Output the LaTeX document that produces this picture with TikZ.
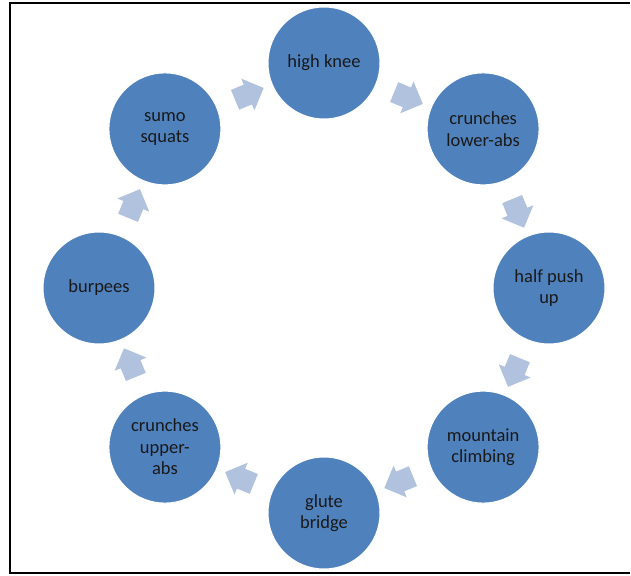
\documentclass[tikz,border=0pt]{standalone}
\usepackage{fontspec}
\setmainfont{Carlito}
\usepackage{tikz}
\usetikzlibrary{shapes.arrows, positioning}

\definecolor{circleblue}{RGB}{79,129,189}
\definecolor{arrowblue}{RGB}{176,194,222}

\begin{document}
\begin{tikzpicture}[x=1pt, y=1pt,
    exercise/.style={circle, fill=circleblue, draw=white, line width=1pt, minimum size=112pt, inner sep=0pt, align=center, text=black!90, font=\fontsize{18.5}{21.5}\selectfont},
    roundarrow/.style={single arrow, fill=arrowblue, draw=none, minimum height=31pt, inner xsep=0pt, inner ysep=10.5pt, single arrow head extend=6.5pt, sloped, allow upside down}]
    \useasboundingbox (-324,-287) rectangle (307,288);
    \draw [line width=2.2pt] (306,285) -- (-314,285) -- (-314,-285) -- (306,-285);

    \node (knee) [exercise] at (90:225) {high knee};
    \node (lowabs) [exercise] at (45:225) {crunches\\lower-abs};
    \node (pushup) [exercise] at (0:225) {half push\\up};
    \node (climb) [exercise] at (-45:225) {mountain\\climbing};
    \node (glute) [exercise] at (-90:225) {glute\\bridge};
    \node (upabs) [exercise] at (-135:225) {crunches\\upper-\\abs};
    \node (burpee) [exercise] at (180:225) {burpees};
    \node (sumo) [exercise] at (135:225) {sumo\\squats};

    \path (knee) -- node [roundarrow] {} (lowabs);
    \path (lowabs) -- node [roundarrow] {} (pushup);
    \path (pushup) -- node [roundarrow] {} (climb);
    \path (climb) -- node [roundarrow] {} (glute);
    \path (glute) -- node [roundarrow] {} (upabs);
    \path (upabs) -- node [roundarrow] {} (burpee);
    \path (burpee) -- node [roundarrow] {} (sumo);
    \path (sumo) -- node [roundarrow] {} (knee);
\end{tikzpicture}
\end{document}
